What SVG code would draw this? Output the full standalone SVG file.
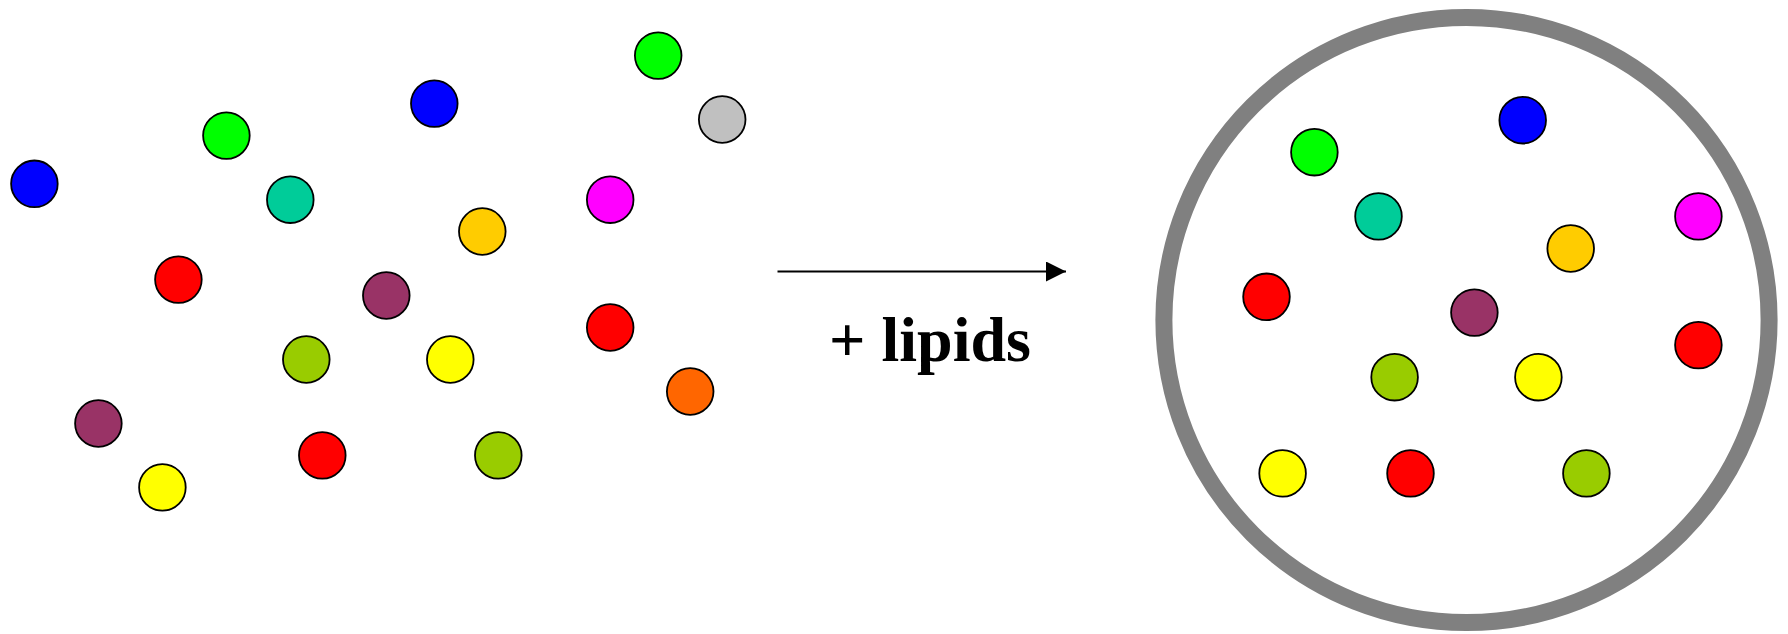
<svg xmlns="http://www.w3.org/2000/svg" width="1788" height="634" viewBox="0 0 1788 634">
<defs>
<style>
.m{stroke:#000;stroke-width:1.8}
.lbl{font-family:"Liberation Serif","Times New Roman",serif;font-weight:bold;font-size:64px;fill:#000}
.conn{stroke:#000;stroke-width:1.8;fill:none}
</style>
<marker id="ah" viewBox="0 0 20 20" refX="20" refY="10" markerWidth="20" markerHeight="20" markerUnits="userSpaceOnUse" orient="auto">
<path d="M0,0 L20,10 L0,20 Z" fill="#000"/>
</marker>
</defs>
<rect width="1788" height="634" fill="#fff"/>
<g id="left-molecules">
<circle id="l1" class="m" cx="34.4" cy="183.8" r="23.3" fill="#0000FF"/>
<circle id="l2" class="m" cx="226.4" cy="135.6" r="23.3" fill="#00FF00"/>
<circle id="l3" class="m" cx="434.3" cy="103.6" r="23.3" fill="#0000FF"/>
<circle id="l4" class="m" cx="658.2" cy="55.6" r="23.3" fill="#00FF00"/>
<circle id="l5" class="m" cx="722.2" cy="119.5" r="23.3" fill="#C0C0C0"/>
<circle id="l6" class="m" cx="290.3" cy="199.7" r="23.3" fill="#00CC99"/>
<circle id="l7" class="m" cx="610.2" cy="199.7" r="23.3" fill="#FF00FF"/>
<circle id="l8" class="m" cx="482.3" cy="231.5" r="23.3" fill="#FFCC00"/>
<circle id="l9" class="m" cx="178.4" cy="279.6" r="23.3" fill="#FF0000"/>
<circle id="l10" class="m" cx="386.3" cy="295.5" r="23.3" fill="#993366"/>
<circle id="l11" class="m" cx="610.2" cy="327.5" r="23.3" fill="#FF0000"/>
<circle id="l12" class="m" cx="306.3" cy="359.5" r="23.3" fill="#99CC00"/>
<circle id="l13" class="m" cx="450.3" cy="359.5" r="23.3" fill="#FFFF00"/>
<circle id="l14" class="m" cx="690.2" cy="391.5" r="23.3" fill="#FF6600"/>
<circle id="l15" class="m" cx="98.4" cy="423.5" r="23.3" fill="#993366"/>
<circle id="l16" class="m" cx="322.3" cy="455.4" r="23.3" fill="#FF0000"/>
<circle id="l17" class="m" cx="498.3" cy="455.4" r="23.3" fill="#99CC00"/>
<circle id="l18" class="m" cx="162.4" cy="487.4" r="23.3" fill="#FFFF00"/>
</g>
<g id="connectors">
<line class="conn" x1="777.5" y1="271.5" x2="1066" y2="271.5" marker-end="url(#ah)"/>
</g>
<g id="label">
<text class="lbl" x="829" y="361">+ lipids</text>
</g>
<g id="vesicle">
<circle cx="1466.5" cy="320" r="302.6" fill="none" stroke="#808080" stroke-width="17"/>
</g>
<g id="right-molecules">
<circle id="r1" class="m" cx="1522.7" cy="120.2" r="23.3" fill="#0000FF"/>
<circle id="r2" class="m" cx="1314.4" cy="152.2" r="23.3" fill="#00FF00"/>
<circle id="r3" class="m" cx="1378.5" cy="216.4" r="23.3" fill="#00CC99"/>
<circle id="r4" class="m" cx="1698.4" cy="216.4" r="23.3" fill="#FF00FF"/>
<circle id="r5" class="m" cx="1570.7" cy="248.5" r="23.3" fill="#FFCC00"/>
<circle id="r6" class="m" cx="1266.5" cy="296.8" r="23.3" fill="#FF0000"/>
<circle id="r7" class="m" cx="1474.4" cy="312.6" r="23.3" fill="#993366"/>
<circle id="r8" class="m" cx="1698.4" cy="345.1" r="23.3" fill="#FF0000"/>
<circle id="r9" class="m" cx="1394.6" cy="377.2" r="23.3" fill="#99CC00"/>
<circle id="r10" class="m" cx="1538.4" cy="377.2" r="23.3" fill="#FFFF00"/>
<circle id="r11" class="m" cx="1282.6" cy="473.4" r="23.3" fill="#FFFF00"/>
<circle id="r12" class="m" cx="1410.5" cy="473.4" r="23.3" fill="#FF0000"/>
<circle id="r13" class="m" cx="1586.4" cy="473.4" r="23.3" fill="#99CC00"/>
</g>
</svg>
